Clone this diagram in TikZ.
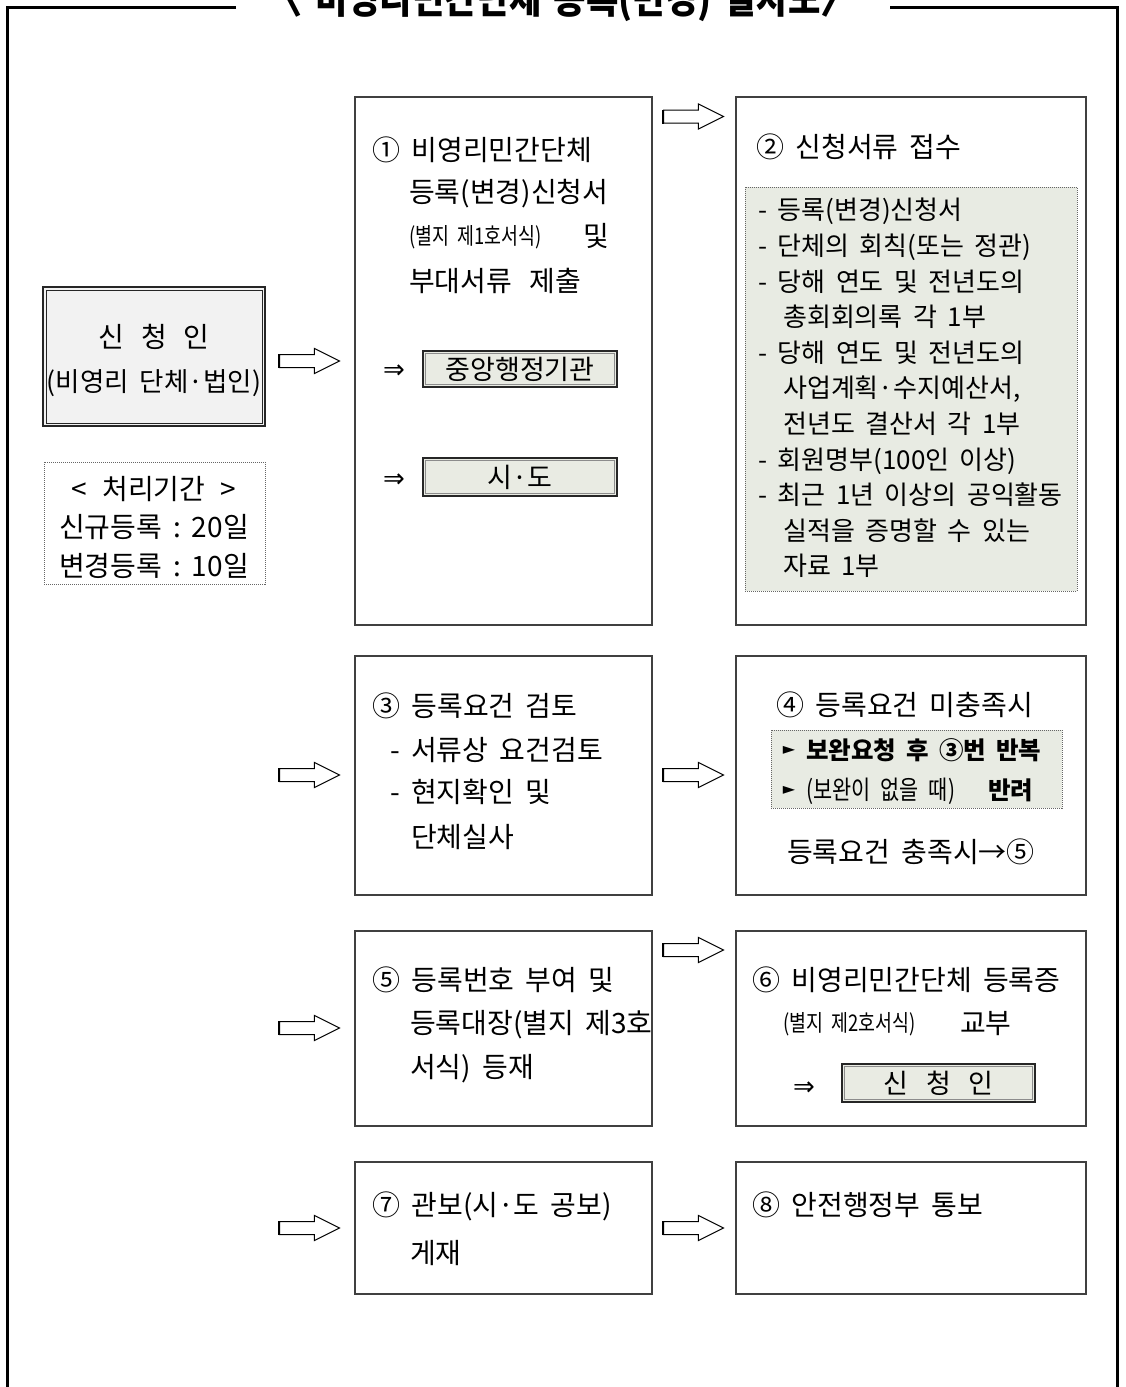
\documentclass[tikz,border=0pt]{standalone}
\usepackage{fontspec}
\setmainfont{Noto Sans CJK KR}[WordSpace=1.8]
\newfontfamily\dejavu{DejaVu Sans}
\newfontfamily\titlefont{Noto Sans CJK KR}[FakeStretch=0.88,WordSpace=1.5]
\newfontfamily\narrowfont{Noto Sans CJK KR}[FakeStretch=0.8,WordSpace=2]
\usetikzlibrary{shapes.arrows}
\definecolor{btnfill}{HTML}{E9EBE3}
\definecolor{appfill}{HTML}{F2F2F2}
\definecolor{listfill}{HTML}{E8EBE3}
\begin{document}
\begin{tikzpicture}[x=1pt,y=-1pt,
  box/.style={draw=black!75, line width=1.2pt, fill=white, inner sep=0pt},
  dotbox/.style={draw=black!60, line width=0.9pt, dash pattern=on 1pt off 1pt, inner sep=0pt},
  btn/.style={draw=black!85, line width=1.1pt, fill=btnfill, inner sep=0pt, font=\fontsize{27}{27}\selectfont},
  barrow/.style={single arrow, draw=black, line width=1pt, fill=white, inner sep=0pt,
     text height=6pt, text depth=6pt, text width=0pt, anchor=tail,
     minimum height=60pt, minimum width=24pt, single arrow head extend=6pt,
     single arrow tip angle=53, single arrow head indent=0pt},
  T/.style={inner sep=0pt, anchor=base west, yshift=-10.6pt, font=\fontsize{28}{28}\selectfont},
  TC/.style={inner sep=0pt, anchor=base, yshift=-10.6pt, font=\fontsize{28}{28}\selectfont},
  L/.style={inner sep=0pt, anchor=base west, yshift=-9.9pt, font=\fontsize{26}{26}\selectfont},
  S/.style={inner sep=0pt, anchor=base west, yshift=-8.6pt, font=\narrowfont\fontsize{23}{23}\selectfont},
  B/.style={inner sep=0pt, anchor=base west, yshift=-9.3pt, font=\fontsize{24.5}{24.5}\selectfont\bfseries},
  sym/.style={inner sep=0pt, font=\dejavu\fontsize{26}{26}\selectfont},
  frame/.style={draw=black, line width=3pt},
  tailline/.style={draw=black, line width=2.2pt}
]
\useasboundingbox (0,0) rectangle (1126,1387);

% outer frame and title
\node[inner sep=0pt, anchor=base, font=\titlefont\bfseries\fontsize{40}{40}\selectfont] (title) at (562,13) {〈 비영리민간단체 등록(변경) 절차도〉};
\draw[frame] (236,7.5) -- (7.5,7.5) -- (7.5,1400);
\draw[frame] (890,7.5) -- (1117.5,7.5) -- (1117.5,1400);

% applicant box
\node[draw=black!85, line width=2pt, fill=appfill, minimum width=222pt, minimum height=139pt, inner sep=0pt] (app) at (154,356.5) {};
\draw[black!85, line width=0.8pt] ([shift={(4pt,-4pt)}]app.north west) rectangle ([shift={(-4pt,4pt)}]app.south east);
\node[TC] (app1) at (154,337) {신\hspace{17pt}청\hspace{17pt}인};
\node[TC, font=\fontsize{26.5}{26.5}\selectfont] (app2) at (154,381) {(비영리 단체·법인)};

% processing period
\node[dotbox, minimum width=221pt, minimum height=122pt] (period) at (154.5,523) {};
\node[TC] (per1) at (154,489) {<\hspace{15pt}처리기간\hspace{15pt}>};
\node[TC] (per2) at (154,527) {신규등록\hspace{11pt}:\hspace{11pt}20일};
\node[TC] (per3) at (154,566) {변경등록\hspace{11pt}:\hspace{11pt}10일};

% main boxes
\node[box, minimum width=297pt, minimum height=528pt] (b1) at (503.5,361) {};
\node[box, minimum width=350pt, minimum height=528pt] (b2) at (911,361) {};
\node[box, minimum width=297pt, minimum height=239pt] (b3) at (503.5,775.5) {};
\node[box, minimum width=350pt, minimum height=239pt] (b4) at (911,775.5) {};
\node[box, minimum width=297pt, minimum height=195pt] (b5) at (503.5,1028.5) {};
\node[box, minimum width=350pt, minimum height=195pt] (b6) at (911,1028.5) {};
\node[box, minimum width=297pt, minimum height=132pt] (b7) at (503.5,1228) {};
\node[box, minimum width=350pt, minimum height=132pt] (b8) at (911,1228) {};

% block arrows
\foreach \n/\x/\y in {a0/279/361, a12/663/116.5, a3/279/775, a34/663/775, a5/279/1028, a56/663/950, a7/279/1228, a78/663/1228}{
  \node[barrow] (\n) at (\x,\y) {};
  \draw[tailline] (\n.before tail) -- (\n.after tail);
}

% box 1
\node[T] (t1a) at (372,150) {① 비영리민간단체};
\node[T] (t1b) at (409,192) {등록(변경)신청서};
\node[S] (t1c) at (409,236) {(별지 제1호서식)};
\node[T] (t1d) at (583,236) {및};
\node[T] (t1e) at (409,281) {부대서류\hspace{6pt} 제출};
\node[sym] (r1) at (394,372) {⇒};
\node[btn, minimum width=194pt, minimum height=36pt] (c1) at (520,369) {중앙행정기관};
\draw[black!45, line width=0.8pt] ([shift={(3pt,-3pt)}]c1.north west) rectangle ([shift={(-3pt,3pt)}]c1.south east);
\node[sym] (r2) at (394,481) {⇒};
\node[btn, minimum width=194pt, minimum height=38pt] (c2) at (520,477) {시·도};
\draw[black!45, line width=0.8pt] ([shift={(3pt,-3pt)}]c2.north west) rectangle ([shift={(-3pt,3pt)}]c2.south east);

% box 2
\node[T] (t2) at (756,147) {② 신청서류 접수};
\node[dotbox, fill=listfill, minimum width=332pt, minimum height=404pt] (list) at (911,389) {};
\node[L] (l1) at (758,210) {- 등록(변경)신청서};
\node[L] (l2) at (758,245.6) {- 단체의 회칙(또는 정관)};
\node[L] (l3) at (758,281.2) {- 당해 연도 및 전년도의};
\node[L] (l4) at (783,316.8) {총회회의록 각 1부};
\node[L] (l5) at (758,352.4) {- 당해 연도 및 전년도의};
\node[L] (l6) at (783,388) {사업계획·수지예산서,};
\node[L] (l7) at (783,423.6) {전년도 결산서 각 1부};
\node[L] (l8) at (758,459.2) {- 회원명부(100인 이상)};
\node[L] (l9) at (758,494.8) {- 최근 1년 이상의 공익활동};
\node[L] (l10) at (783,530.4) {실적을 증명할 수 있는};
\node[L] (l11) at (783,566) {자료 1부};

% box 3
\node[T] (t3a) at (372,706) {③ 등록요건 검토};
\node[T] (t3b) at (390,750) {- 서류상 요건검토};
\node[T] (t3c) at (390,792) {- 현지확인 및};
\node[T] (t3d) at (411,837) {단체실사};

% box 4
\node[T] (t4a) at (776,705) {④ 등록요건 미충족시};
\node[dotbox, fill=listfill, minimum width=291pt, minimum height=78pt] (cond) at (916.5,769) {};
\node[sym, font=\dejavu\fontsize{16}{16}\selectfont] (p1) at (789,750) {►};
\node[B] (t4b) at (806,750) {보완요청 후 ③번 반복};
\node[sym, font=\dejavu\fontsize{16}{16}\selectfont] (p2) at (789,790) {►};
\node[S, font=\narrowfont\fontsize{26}{26}\selectfont, yshift=-0.9pt] (t4c) at (806,790) {(보완이\hspace{10pt}없을\hspace{10pt}때)};
\node[B] (t4d) at (988,790) {반려};
\node[TC] (t4e) at (911,852) {등록요건 충족시→⑤};

% box 5
\node[T] (t5a) at (372,980) {⑤ 등록번호 부여 및};
\node[T] (t5b) at (410,1023) {등록대장(별지 제3호};
\node[T] (t5c) at (410,1067) {서식) 등재};

% box 6
\node[T] (t6a) at (752,980) {⑥ 비영리민간단체 등록증};
\node[S] (t6b) at (783,1023) {(별지 제2호서식)};
\node[T] (t6c) at (960,1023) {교부};
\node[sym] (r3) at (804,1089) {⇒};
\node[btn, minimum width=193pt, minimum height=38pt] (c3) at (938.5,1083) {신\hspace{18pt}청\hspace{18pt}인};
\draw[black!45, line width=0.8pt] ([shift={(3pt,-3pt)}]c3.north west) rectangle ([shift={(-3pt,3pt)}]c3.south east);

% box 7 and 8
\node[T] (t7a) at (372,1205) {⑦ 관보(시·도 공보)};
\node[T] (t7b) at (410,1253) {게재};
\node[T] (t8) at (752,1205) {⑧ 안전행정부 통보};
\end{tikzpicture}
\end{document}
